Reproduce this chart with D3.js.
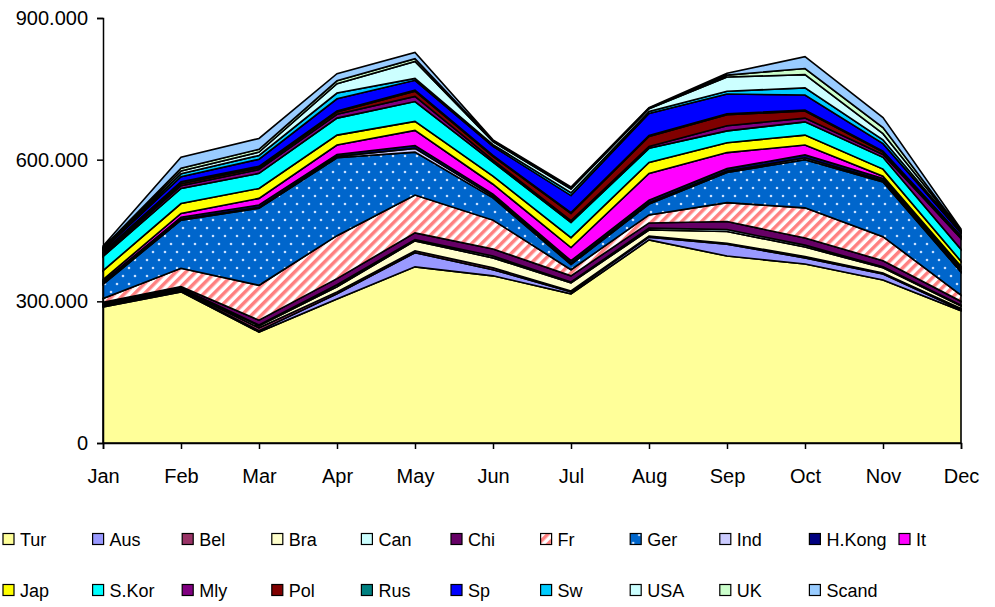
<!DOCTYPE html>
<html><head><meta charset="utf-8">
<script src="https://cdn.jsdelivr.net/npm/d3@7"></script>
<style>body{margin:0;background:#fff;} svg{display:block;font-family:"Liberation Sans",Arial,sans-serif;}</style>
</head><body>
<svg id="chart" width="995" height="607"></svg>
<script>
const months = ["Jan","Feb","Mar","Apr","May","Jun","Jul","Aug","Sep","Oct","Nov","Dec"];
const seriesNames = ["Tur","Aus","Bel","Bra","Can","Chi","Fr","Ger","Ind","H.Kong","It","Jap","S.Kor","Mly","Pol","Rus","Sp","Sw","USA","UK","Scand"];
const yTicks = [0, 300000, 600000, 900000];

// values in thousands
const tur   = [288,320,235,305,373,354,316,430,396,379,345,280];
const aus   = [2,2,3,11,30,13,4,6,25,13,13,2];
const bel   = [2,3,6,4,4,4,2,2,2,3,2,3];
const bra   = [2,2,4,11,21,21,17,13,25,20,11,5];
const can   = [1,1,2,4,3,4,2,4,4,4,2,2];
const chi   = [3,3,10,13,14,15,13,11,17,15,13,8];
const fr    = [8,39,74,91,80,61,13,17,40,64,51,13];
const ger   = [30,102,163,165,91,47,11,23,64,102,116,49];
const ind   = [2,2,2,3,8,4,3,3,3,4,3,2];
const hkong = [4,4,5,4,6,4,5,5,5,6,4,6];
const it    = [4,8,14,20,32,21,28,57,34,21,5,4];
const jap   = [19,21,21,21,19,17,21,23,21,21,15,11];
const skor  = [30,32,32,36,42,30,32,30,25,28,25,25];
const mly   = [4,6,8,8,11,4,4,4,11,8,6,23];
const pol   = [4,4,4,5,11,8,15,21,23,15,5,4];
const rus   = [2,4,3,2,2,2,2,2,2,2,2,2];
const sp    = [4,11,15,26,21,19,36,47,42,32,16,6];
const sw    = [2,6,8,12,4,4,6,4,6,15,8,2];
const usa   = [2,6,7,20,36,6,8,6,30,28,13,2];
const uk    = [1,6,6,6,6,2,2,1,4,13,13,1];
const scand = [3,23,23,15,13,2,2,1,4,25,21,3];

const seriesValues = [tur,aus,bel,bra,can,chi,fr,ger,ind,hkong,it,jap,skor,mly,pol,rus,sp,sw,usa,uk,scand];
const seriesColors = ["#FFFF99","#9999FF","#993366","#FFFFCC","#CCFFFF","#660066","url(#frPat)","url(#gerPat)","#CCCCFF","#000080","#FF00FF","#FFFF00","#00FFFF","#800080","#800000","#008080","#0000FF","#00CCFF","#CCFFFF","#CCFFCC","#99CCFF"];

const table = months.map((m,i)=>{
  const row = {month:m};
  seriesNames.forEach((s,j)=>{ row[s] = seriesValues[j][i]*1000; });
  return row;
});

const svg = d3.select("#chart");
const defs = svg.append("defs");
const fp = defs.append("pattern").attr("id","frPat").attr("patternUnits","userSpaceOnUse")
  .attr("width",7).attr("height",7).attr("patternTransform","rotate(45)");
fp.append("rect").attr("width",7).attr("height",7).attr("fill","#fff");
fp.append("rect").attr("width",3.5).attr("height",7).attr("fill","#FF8080");
const gp = defs.append("pattern").attr("id","gerPat").attr("patternUnits","userSpaceOnUse")
  .attr("width",12).attr("height",16);
gp.append("rect").attr("width",12).attr("height",16).attr("fill","#0066CC");
gp.append("circle").attr("cx",3).attr("cy",4).attr("r",1.3).attr("fill","#C8E0FF");
gp.append("circle").attr("cx",9).attr("cy",12).attr("r",1.3).attr("fill","#C8E0FF");

const x = d3.scalePoint().domain(months).range([103, 961]);
const y = d3.scaleLinear().domain([0, 900000]).range([443, 18]);

const stack = d3.stack().keys(seriesNames);
const layers = stack(table);

const area = d3.area()
  .x(d=>x(d.data.month))
  .y0(d=>y(d[0]))
  .y1(d=>y(d[1]));

svg.append("g").selectAll("path").data(layers).join("path")
  .attr("d", area)
  .attr("fill",(d,i)=>seriesColors[i])
  .attr("stroke","#000").attr("stroke-width",1.6).attr("stroke-linejoin","miter");

const loc = d3.formatLocale({decimal:",", thousands:".", grouping:[3], currency:["",""]});
const fmt = loc.format(",d");

const yAxis = d3.axisLeft(y).tickValues(yTicks).tickFormat(fmt).tickSize(6).tickPadding(9);
const gy = svg.append("g").attr("transform","translate(103,0)").call(yAxis);
gy.select(".domain").attr("stroke","#000").attr("stroke-width",1.5);
gy.selectAll(".tick line").attr("stroke","#000").attr("stroke-width",1.5);
gy.selectAll("text").attr("font-size",20).attr("fill","#000").attr("font-family","Liberation Sans, Arial, sans-serif");

const xAxis = d3.axisBottom(x).tickSize(6).tickPadding(20);
const gx = svg.append("g").attr("transform","translate(0,443)").call(xAxis);
gx.select(".domain").attr("stroke","#000").attr("stroke-width",1.5);
gx.selectAll(".tick line").attr("stroke","#000").attr("stroke-width",1.5);
gx.selectAll("text").attr("font-size",20).attr("fill","#000").attr("font-family","Liberation Sans, Arial, sans-serif");

// legend
const legend = svg.append("g");
seriesNames.forEach((s,i)=>{
  const row = i < 11 ? 0 : 1;
  const col = i < 11 ? i : i-11;
  const lx = 3 + col*89.6;
  const ly = row===0 ? 539 : 590;
  const g = legend.append("g").attr("transform",`translate(${lx},${ly})`);
  g.append("rect").attr("x",0).attr("y",-5.5).attr("width",11).attr("height",11)
    .attr("fill",seriesColors[i]).attr("stroke","#000").attr("stroke-width",1.2);
  g.append("text").attr("x",17).attr("y",6.5).attr("font-size",18).attr("fill","#000").text(s);
});
</script>
</body></html>
